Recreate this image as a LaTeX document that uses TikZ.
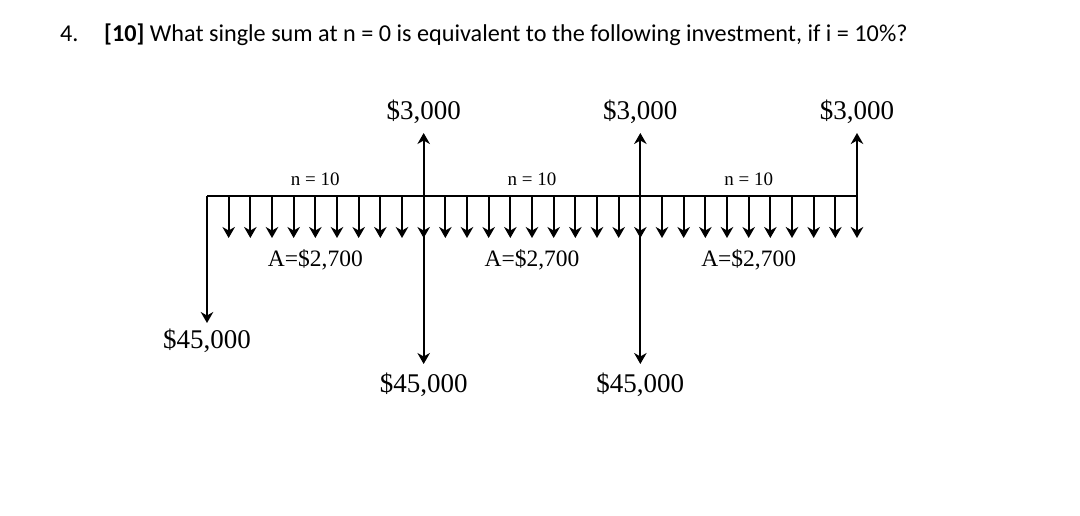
\documentclass[tikz,border=0pt]{standalone}
\usepackage{fontspec}
\setmainfont{Liberation Serif}
\newfontfamily\titlefont{Carlito}
\usetikzlibrary{arrows.meta,calc}
\tikzset{
  cfline/.style={line width=2pt},
  cfarrow/.style={line width=2pt,-{Stealth[length=11pt,width=12.5pt,inset=3.5pt]}}}
\begin{document}
\begin{tikzpicture}[x=1pt,y=-1pt,
  bigtxt/.style={inner sep=0pt,anchor=base,font=\fontsize{27}{30}\selectfont},
  ntxt/.style={inner sep=0pt,anchor=base,font=\fontsize{19}{22}\selectfont},
  atxt/.style={inner sep=0pt,anchor=base,font=\fontsize{23.5}{26}\selectfont},
  titletxt/.style={inner sep=0pt,anchor=base west,font=\titlefont\fontsize{24.2}{27}\selectfont}]
\useasboundingbox[fill=white] (0,0) rectangle (1080,515);
% title
\node[titletxt] (num) at (60,41) {4.};
\node[titletxt] (title) at (104,41) {\textbf{[10]} What single sum at n = 0 is equivalent to the following investment, if i = 10\%?};
% timeline coordinates
\foreach \k in {0,...,30}{
  \coordinate (t\k) at ({207+21.667*\k},196);
  \coordinate (d\k) at ({207+21.667*\k},238);
}
\draw[cfline] (t0) -- (t30);
% small annuity arrows
\foreach \k in {1,...,30}{
  \draw[cfarrow] (t\k) -- (d\k);
}
% up arrows $3,000
\foreach \k/\n in {10/a,20/b,30/c}{
  \coordinate (u\n) at ($(t\k)+(0,-63)$);
  \node[bigtxt] (l\n) at ($(t\k)+(0,-77)$) {\$3,000};
  \draw[cfarrow] (t\k) -- (u\n);
}
% big down arrows $45,000
\coordinate (p0) at ($(t0)+(0,127)$);
\node[bigtxt] (q0) at ($(t0)+(0,152)$) {\$45,000};
\draw[cfarrow] (t0) -- (p0);
\coordinate (p10) at ($(t10)+(0,168)$);
\node[bigtxt] (q10) at ($(t10)+(0,196)$) {\$45,000};
\draw[cfarrow] (t10) -- (p10);
\coordinate (p20) at ($(t20)+(0,168)$);
\node[bigtxt] (q20) at ($(t20)+(0,196)$) {\$45,000};
\draw[cfarrow] (t20) -- (p20);
% labels
\foreach \a/\b/\n in {0/10/a,10/20/b,20/30/c}{
  \node[ntxt] (n\n) at ($(t\a)!0.5!(t\b)+(0,-11)$) {n = 10};
  \node[atxt] (A\n) at ($(t\a)!0.5!(t\b)+(0,70)$) {A=\$2,700};
}
\end{tikzpicture}
\end{document}
